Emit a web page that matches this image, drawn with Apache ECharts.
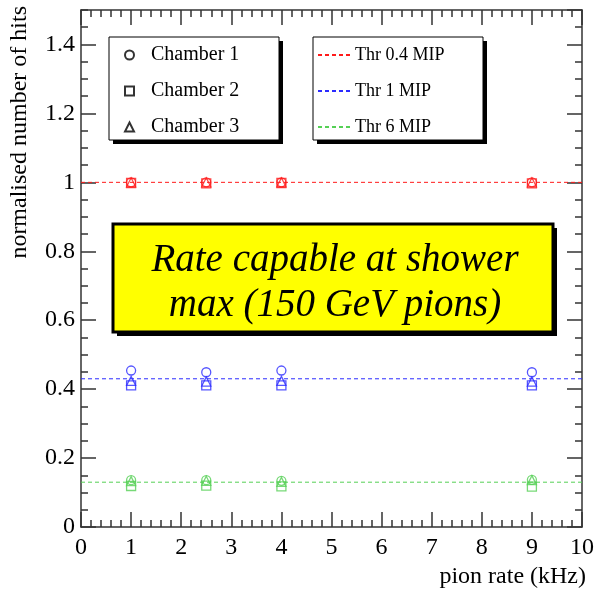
<!DOCTYPE html>
<html>
<head>
<meta charset="utf-8">
<script src="https://cdn.jsdelivr.net/npm/echarts@6/dist/echarts.min.js"></script>
<style>
html,body{margin:0;padding:0;background:#fff;}
#chart{width:597px;height:592px;}
</style>
</head>
<body>
<div id="chart"></div>
<script>
// ---- data ----
var rates = [1, 2.5, 4, 9];                 // pion rate (kHz)
var chamberNames = ['Chamber 1', 'Chamber 2', 'Chamber 3'];
var thrNames = ['Thr 0.4 MIP', 'Thr 1 MIP', 'Thr 6 MIP'];
var thrLevels = [1.0, 0.43, 0.13];         // fitted constant levels
// normalised number of hits per chamber per threshold
var ch1_thr04 = [1.000, 1.000, 1.000, 1.000];
var ch2_thr04 = [0.998, 0.997, 0.998, 0.997];
var ch3_thr04 = [1.000, 1.000, 1.000, 1.000];
var ch1_thr1  = [0.454, 0.449, 0.454, 0.449];
var ch2_thr1  = [0.411, 0.411, 0.411, 0.411];
var ch3_thr1  = [0.424, 0.422, 0.424, 0.422];
var ch1_thr6  = [0.136, 0.136, 0.134, 0.137];
var ch2_thr6  = [0.119, 0.120, 0.118, 0.117];
var ch3_thr6  = [0.133, 0.134, 0.131, 0.136];
var xRange = [0, 10];
var yRange = [0, 1.5];

var values = [
  [ch1_thr04, ch2_thr04, ch3_thr04],
  [ch1_thr1,  ch2_thr1,  ch3_thr1],
  [ch1_thr6,  ch2_thr6,  ch3_thr6]
];
var thrColors = ['#ff1a1a', '#2b2bff', '#55d055'];
var symbols = ['circle', 'rect', 'triangle'];
var FONT = 'Liberation Serif, Times New Roman, serif';

var series = [];
// dummy series for the chamber legend
chamberNames.forEach(function (n, c) {
  series.push({
    name: n, type: 'scatter', data: [], symbol: symbols[c], symbolSize: 9,
    itemStyle: {color: 'rgba(0,0,0,0)', borderColor: '#000', borderWidth: 1.2}
  });
});
// threshold lines
thrNames.forEach(function (n, t) {
  series.push({
    name: n, type: 'line', symbol: 'none', showSymbol: false, z: 2,
    data: [[xRange[0], thrLevels[t]], [xRange[1], thrLevels[t]]],
    lineStyle: {color: thrColors[t], width: 1, type: [4, 3]},
    itemStyle: {color: thrColors[t]},
    silent: true
  });
});
// measured points
values.forEach(function (byCh, t) {
  byCh.forEach(function (arr, c) {
    series.push({
      name: chamberNames[c] + ' / ' + thrNames[t], type: 'scatter', z: 3,
      symbol: symbols[c], symbolSize: 9,
      data: rates.map(function (r, i) { return [r, arr[i]]; }),
      itemStyle: {color: 'rgba(0,0,0,0)', borderColor: thrColors[t], borderWidth: 1.3}
    });
  });
});

var axisLineStyle = {color: '#333', width: 1.5};
function xAx(pos, labels) {
  return {
    type: 'value', position: pos, min: xRange[0], max: xRange[1], interval: 1,
    axisLine: {show: true, onZero: false, lineStyle: axisLineStyle},
    axisTick: {show: true, inside: true, length: 15, lineStyle: axisLineStyle},
    minorTick: {show: true, splitNumber: 5, length: 7, lineStyle: axisLineStyle},
    axisLabel: {show: labels, color: '#000', fontSize: 24, fontFamily: FONT, margin: 9},
    splitLine: {show: false}
  };
}
function yAx(pos, interval, len, labels, line) {
  return {
    type: 'value', position: pos, min: yRange[0], max: yRange[1], interval: interval,
    axisLine: {show: line, onZero: false, lineStyle: axisLineStyle},
    axisTick: {show: true, inside: true, length: len, lineStyle: axisLineStyle},
    axisLabel: {show: labels, color: '#000', fontSize: 24, fontFamily: FONT, margin: 6,
      showMaxLabel: false,
      formatter: function (v) { return String(+v.toFixed(2)); }},
    splitLine: {show: false}
  };
}

var option = {
  animation: false,
  backgroundColor: '#fff',
  grid: {left: 81, right: 12, top: 10, bottom: 65},
  xAxis: [xAx('bottom', true), xAx('top', false)],
  yAxis: [
    yAx('left', 0.2, 15, true, true),
    yAx('left', 0.05, 7, false, false),
    yAx('right', 0.2, 15, false, true),
    yAx('right', 0.05, 7, false, false)
  ],
  legend: [
    {
      data: chamberNames, orient: 'vertical', left: 124, top: 43, padding: 0,
      itemWidth: 9, itemHeight: 9, itemGap: 12, z: 20, selectedMode: false,
      textStyle: {fontFamily: FONT, fontSize: 20, color: '#000', lineHeight: 24,
        padding: [0, 0, 0, 12]}
    },
    {
      data: thrNames, orient: 'vertical', left: 317, top: 43, padding: 0,
      itemWidth: 32, itemHeight: 9, itemGap: 12, z: 20, selectedMode: false,
      itemStyle: {opacity: 0},
      textStyle: {fontFamily: FONT, fontSize: 18, color: '#000', lineHeight: 24}
    }
  ],
  graphic: [
    {type: 'rect', z: 10, shape: {x: 113, y: 41, width: 170, height: 103}, style: {fill: '#000'}},
    {type: 'rect', z: 11, shape: {x: 109, y: 37, width: 170, height: 103}, style: {fill: '#fff', stroke: '#000', lineWidth: 1}},
    {type: 'rect', z: 10, shape: {x: 317, y: 41, width: 170, height: 103}, style: {fill: '#000'}},
    {type: 'rect', z: 11, shape: {x: 313, y: 37, width: 170, height: 103}, style: {fill: '#fff', stroke: '#000', lineWidth: 1}},
    {type: 'rect', z: 10, shape: {x: 117, y: 228, width: 440, height: 108}, style: {fill: '#000'}},
    {type: 'rect', z: 11, shape: {x: 113, y: 224, width: 440, height: 108}, style: {fill: '#ffff00', stroke: '#000', lineWidth: 3}},
    {type: 'text', z: 12, x: 335, y: 283,
      style: {text: 'Rate capable at shower\nmax (150 GeV pions)', fill: '#000',
        font: 'italic 39px ' + FONT, textAlign: 'center', textVerticalAlign: 'middle', lineHeight: 45}},
    {type: 'text', z: 12, x: 20, y: 6, rotation: Math.PI / 2,
      style: {text: 'normalised number of hits', fill: '#000', font: '24px ' + FONT,
        textAlign: 'right', textVerticalAlign: 'middle'}},
    {type: 'text', z: 12, x: 586, y: 577,
      style: {text: 'pion rate (kHz)', fill: '#000', font: '24px ' + FONT,
        textAlign: 'right', textVerticalAlign: 'middle'}}
  ],
  series: series
};

var chart = echarts.init(document.getElementById('chart'), null, {renderer: 'canvas'});
chart.setOption(option);
</script>
</body>
</html>
